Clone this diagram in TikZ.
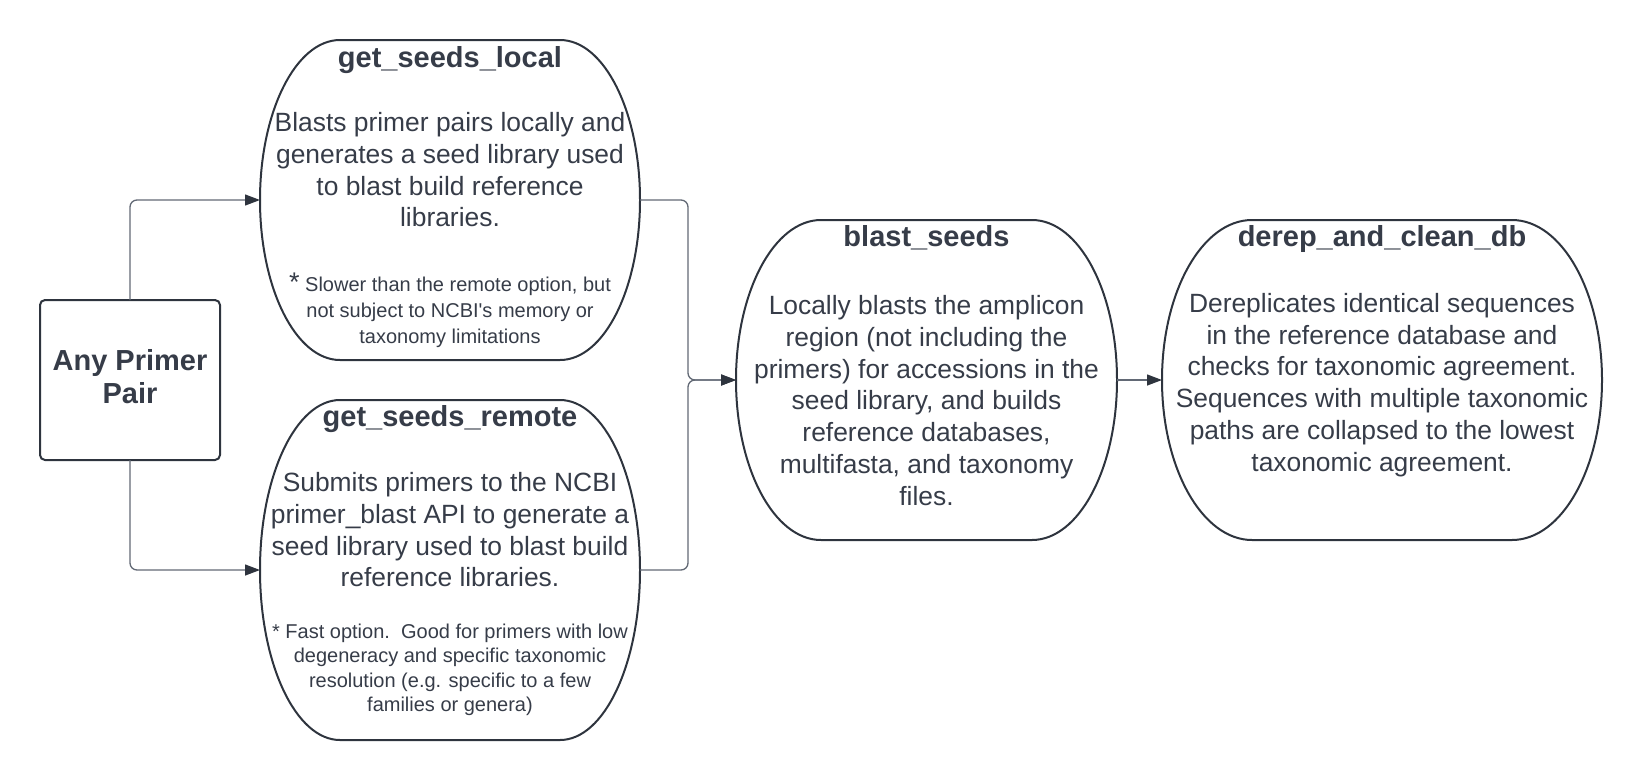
\documentclass[tikz,border=0pt]{standalone}
\usepackage{fontspec}
\setmainfont{Liberation Sans}
\usetikzlibrary{arrows.meta,calc}
\definecolor{ink}{HTML}{2E343E}
\definecolor{txt}{HTML}{363C48}
\definecolor{wire}{HTML}{626975}
\tikzset{
  frame/.style={inner sep=0pt, outer sep=0pt},
  outline/.style={draw=ink, line width=2pt},
  sqbox/.style={draw=ink, line width=2pt, rounded corners=5pt, inner sep=0pt, outer sep=0pt, minimum width=180pt, minimum height=160pt},
  wireline/.style={draw=wire, line width=1.3pt, rounded corners=7pt, -{Triangle[length=15pt,width=11pt,color=ink]}},
  ttl/.style={anchor=base, inner sep=0pt, text=txt, font=\bfseries\fontsize{29}{34}\selectfont},
  body/.style={anchor=base, inner sep=0pt, align=center, text=txt, font=\fontsize{26.4}{31.7}\selectfont},
  notea/.style={anchor=base, inner sep=0pt, align=center, text=txt, font=\fontsize{20}{25.7}\selectfont},
  noteb/.style={anchor=base, inner sep=0pt, align=center, text=txt, font=\fontsize{20}{24.5}\selectfont},
}
\newcommand\blobpath[3]{%
  \draw[outline] ($(#1.north west)+(#2,0)$) -- ($(#1.north east)+(-#2,0)$)
    arc[start angle=90,end angle=-90,x radius=#2pt,y radius=#3pt]
    -- ($(#1.south west)+(#2,0)$)
    arc[start angle=270,end angle=90,x radius=#2pt,y radius=#3pt] -- cycle;}
\begin{document}
\begin{tikzpicture}[x=1pt,y=-1pt]
\useasboundingbox (0,0) rectangle (1641,780);
% shape frames
\node[frame, minimum width=380pt, minimum height=320pt] (local) at (450,200) {};
\node[frame, minimum width=380pt, minimum height=340pt] (remote) at (450,570) {};
\node[frame, minimum width=381pt, minimum height=320pt] (blast) at (926.5,380) {};
\node[frame, minimum width=440pt, minimum height=320pt] (derep) at (1382,380) {};
\node[sqbox, align=center] (primer) at (130,380) {};
\blobpath{local}{80}{160}
\blobpath{remote}{80}{170}
\blobpath{blast}{85}{160}
\blobpath{derep}{90}{160}
% texts (base anchor = baseline of the last line)
\node[ttl] (primert) at (130,370) {Any Primer};
\node[ttl] (primert2) at (130,403) {Pair};
\node[ttl] (localt) at (450,67.7) {get\_seeds\_local};
\node[body] (localb) at (450,226.7) {Blasts primer pairs locally and\\generates a seed library used\\to blast build reference\\libraries.};
\node[notea] (localn) at (450,343.3) {{\fontsize{27}{27}\selectfont *} Slower than the remote option, but\\not subject to NCBI\textquotesingle s memory or\\taxonomy limitations};
\node[ttl] (remotet) at (450,426.7) {get\_seeds\_remote};
\node[body] (remoteb) at (450,586.7) {Submits primers to the NCBI\\primer\_blast API to generate a\\seed library used to blast build\\reference libraries.};
\node[noteb] (remoten) at (450,711.7) {* Fast option.~~Good for primers with low\\degeneracy and specific taxonomic\\resolution (e.g. specific to a few\\families or genera)};
\node[ttl] (blastt) at (926.5,246.7) {blast\_seeds};
\node[body] (blastb) at (926.5,505) {Locally blasts the amplicon\\region (not including the\\primers) for accessions in the\\seed library, and builds\\reference databases,\\multifasta, and taxonomy\\files.};
\node[ttl] (derept) at (1382,246.7) {derep\_and\_clean\_db};
\node[body] (derepb) at (1382,471) {Dereplicates identical sequences\\in the reference database and\\checks for taxonomic agreement.\\Sequences with multiple taxonomic\\paths are collapsed to the lowest\\taxonomic agreement.};
% connectors
\coordinate (j) at (688,380);
\draw[wireline] (primer.north) |- (local.west);
\draw[wireline] (primer.south) |- (remote.west);
\draw[wireline] (local.east) -| (j) -- (blast.west);
\draw[wireline] (remote.east) -| (j) -- (blast.west);
\draw[wireline] (blast.east) -- (derep.west);
\end{tikzpicture}
\end{document}
